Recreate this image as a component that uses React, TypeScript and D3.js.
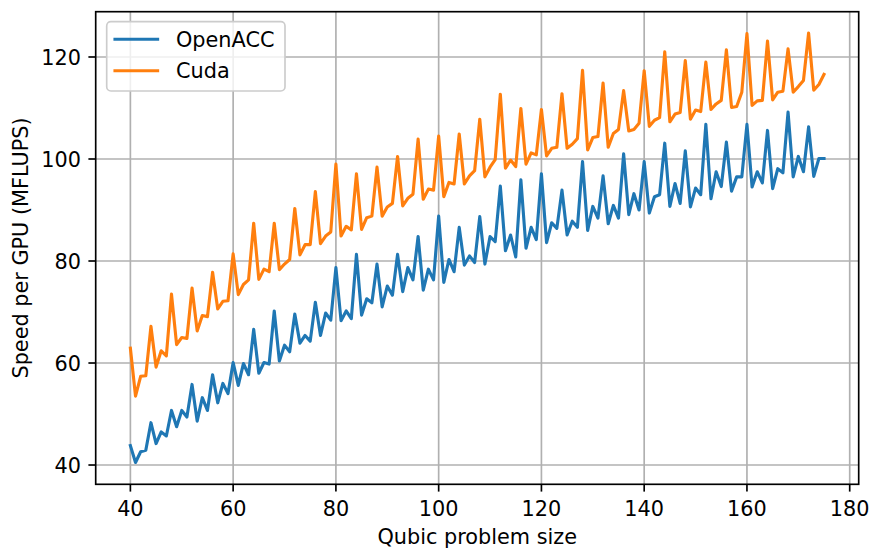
import React from "react";
import * as d3 from "d3";

const sizes: number[] = d3.range(40, 176);

const openacc: number[] = [
  43.8, 40.5, 42.6, 42.9, 48.3, 44.2, 46.5, 45.7, 50.7, 47.5,
  50.7, 49.4, 55.8, 48.6, 53.2, 50.7, 57.7, 52.2, 56.0, 54.0,
  60.1, 55.6, 59.9, 57.7, 66.6, 58.0, 60.1, 59.8, 70.2, 60.4,
  63.5, 62.2, 69.6, 63.9, 65.4, 64.3, 71.9, 65.4, 69.8, 68.4,
  78.7, 68.3, 70.2, 68.7, 81.3, 69.4, 72.6, 71.8, 79.4, 71.0,
  75.1, 73.3, 81.3, 74.0, 78.7, 76.3, 84.8, 74.3, 78.4, 76.3,
  88.8, 75.8, 80.3, 77.9, 86.6, 79.2, 81.0, 79.7, 88.7, 79.4,
  84.8, 83.8, 94.7, 82.0, 85.1, 80.8, 95.9, 82.5, 86.6, 84.2,
  97.1, 83.6, 87.5, 86.4, 93.9, 85.1, 87.8, 86.6, 99.5, 86.0,
  90.7, 88.4, 96.7, 87.3, 90.9, 88.4, 101.0, 89.1, 93.2, 90.0,
  99.5, 89.4, 92.6, 93.0, 103.1, 90.7, 95.2, 91.3, 101.6, 90.6,
  94.3, 93.0, 106.8, 92.2, 97.5, 94.6, 103.3, 93.7, 96.5, 96.5,
  106.8, 94.5, 97.5, 95.3, 105.6, 94.2, 98.1, 97.3, 109.2, 96.5,
  100.5, 97.5, 106.3, 96.6, 100.1, 100.1,
];

const cuda: number[] = [
  62.9, 53.5, 57.4, 57.5, 67.2, 59.2, 62.4, 61.4, 73.5, 63.6,
  65.0, 64.8, 74.7, 66.3, 69.3, 69.1, 77.8, 70.6, 72.1, 72.2,
  81.4, 73.4, 75.4, 76.3, 87.4, 76.4, 78.4, 77.9, 87.4, 78.3,
  79.4, 80.3, 90.3, 81.2, 83.2, 83.2, 93.6, 83.4, 84.9, 85.7,
  99.0, 84.9, 86.8, 86.1, 97.1, 86.2, 88.5, 88.8, 98.4, 88.8,
  90.6, 91.3, 100.5, 90.8, 92.3, 93.1, 103.9, 92.1, 94.1, 93.9,
  104.5, 92.6, 95.4, 95.1, 104.9, 95.1, 96.7, 97.7, 107.8, 96.5,
  98.4, 99.9, 112.7, 98.2, 99.8, 98.5, 109.9, 99.0, 101.2, 100.8,
  109.7, 100.6, 102.1, 102.3, 112.8, 102.1, 102.9, 104.0, 117.4, 101.8,
  104.2, 104.4, 114.9, 102.3, 105.0, 105.8, 113.4, 105.5, 105.8, 107.0,
  117.3, 106.4, 107.6, 108.1, 121.0, 107.3, 108.8, 109.1, 119.3, 107.8,
  109.6, 109.3, 119.0, 109.7, 110.8, 111.5, 121.4, 110.1, 110.3, 113.1,
  124.6, 110.5, 111.4, 111.5, 123.1, 111.6, 113.1, 113.3, 121.6, 113.1,
  114.2, 115.4, 124.7, 113.5, 114.6, 116.6,
];

const xTicks: number[] = [40, 60, 80, 100, 120, 140, 160, 180];
const yTicks: number[] = [40, 60, 80, 100, 120];
const seriesNames: string[] = ["OpenACC", "Cuda"];
const seriesColors: string[] = ["#1f77b4", "#ff7f0e"];
const xLabel = "Qubic problem size";
const yLabel = "Speed per GPU (MFLUPS)";

const W = 872;
const H = 551;
const L = 95.7;
const R = 858.7;
const T = 11.7;
const B = 484.3;
const FS = 20.8;
const FONT = "'DejaVu Sans', sans-serif";

export default function App() {
  const xs = d3.scaleLinear().domain([33.25, 181.75]).range([L, R]);
  const ys = d3.scaleLinear().domain([36.22, 128.88]).range([B, T]);
  const all = [openacc, cuda];
  const line = (vals: number[]) =>
    d3
      .line<number>()
      .x((_, i) => xs(sizes[i]))
      .y((d) => ys(d))(vals) || "";

  return (
    <svg
      width={W}
      height={H}
      style={{ position: "absolute", left: 0, top: 0, background: "#fff" }}
      fontFamily={FONT}
    >
      <rect x={0} y={0} width={W} height={H} fill="#fff" />
      <defs>
        <clipPath id="plotclip">
          <rect x={L} y={T} width={R - L} height={B - T} />
        </clipPath>
      </defs>
      {/* grid */}
      <g stroke="#b0b0b0" strokeWidth={1.67}>
        {xTicks.map((t) => (
          <line key={"gx" + t} x1={xs(t)} x2={xs(t)} y1={T} y2={B} />
        ))}
        {yTicks.map((t) => (
          <line key={"gy" + t} x1={L} x2={R} y1={ys(t)} y2={ys(t)} />
        ))}
      </g>
      {/* series */}
      <g clipPath="url(#plotclip)">
        {all.map((vals, k) => (
          <path
            key={seriesNames[k]}
            d={line(vals)}
            fill="none"
            stroke={seriesColors[k]}
            strokeWidth={3.125}
            strokeLinejoin="round"
            strokeLinecap="square"
          />
        ))}
      </g>
      {/* spines */}
      <rect
        x={L}
        y={T}
        width={R - L}
        height={B - T}
        fill="none"
        stroke="#000"
        strokeWidth={1.67}
      />
      {/* x ticks */}
      <g>
        {xTicks.map((t) => (
          <g key={"xt" + t}>
            <line x1={xs(t)} x2={xs(t)} y1={B} y2={B + 7.3} stroke="#000" strokeWidth={1.67} />
            <text x={xs(t)} y={516} textAnchor="middle" fontSize={FS} fill="#000">
              {t}
            </text>
          </g>
        ))}
      </g>
      {/* y ticks */}
      <g>
        {yTicks.map((t) => (
          <g key={"yt" + t}>
            <line x1={L - 7.3} x2={L} y1={ys(t)} y2={ys(t)} stroke="#000" strokeWidth={1.67} />
            <text x={81} y={ys(t) + 8.3} textAnchor="end" fontSize={FS} fill="#000">
              {t}
            </text>
          </g>
        ))}
      </g>
      {/* axis labels */}
      <text x={(L + R) / 2} y={544} textAnchor="middle" fontSize={FS} fill="#000">
        {xLabel}
      </text>
      <text
        transform={`translate(27.5, ${(T + B) / 2}) rotate(-90)`}
        textAnchor="middle"
        fontSize={FS}
        fill="#000"
      >
        {yLabel}
      </text>
      {/* legend */}
      <g>
        <rect
          x={106.7}
          y={21.7}
          width={178.3}
          height={69.3}
          rx={4.2}
          ry={4.2}
          fill="#fff"
          fillOpacity={0.8}
          stroke="#cccccc"
          strokeWidth={1.67}
        />
        {seriesNames.map((n, k) => (
          <g key={"lg" + n}>
            <line
              x1={115}
              x2={157.6}
              y1={39.3 + k * 31.4}
              y2={39.3 + k * 31.4}
              stroke={seriesColors[k]}
              strokeWidth={3.125}
              strokeLinecap="square"
            />
            <text x={176} y={46.9 + k * 31.4} fontSize={FS} fill="#000">
              {n}
            </text>
          </g>
        ))}
      </g>
    </svg>
  );
}
